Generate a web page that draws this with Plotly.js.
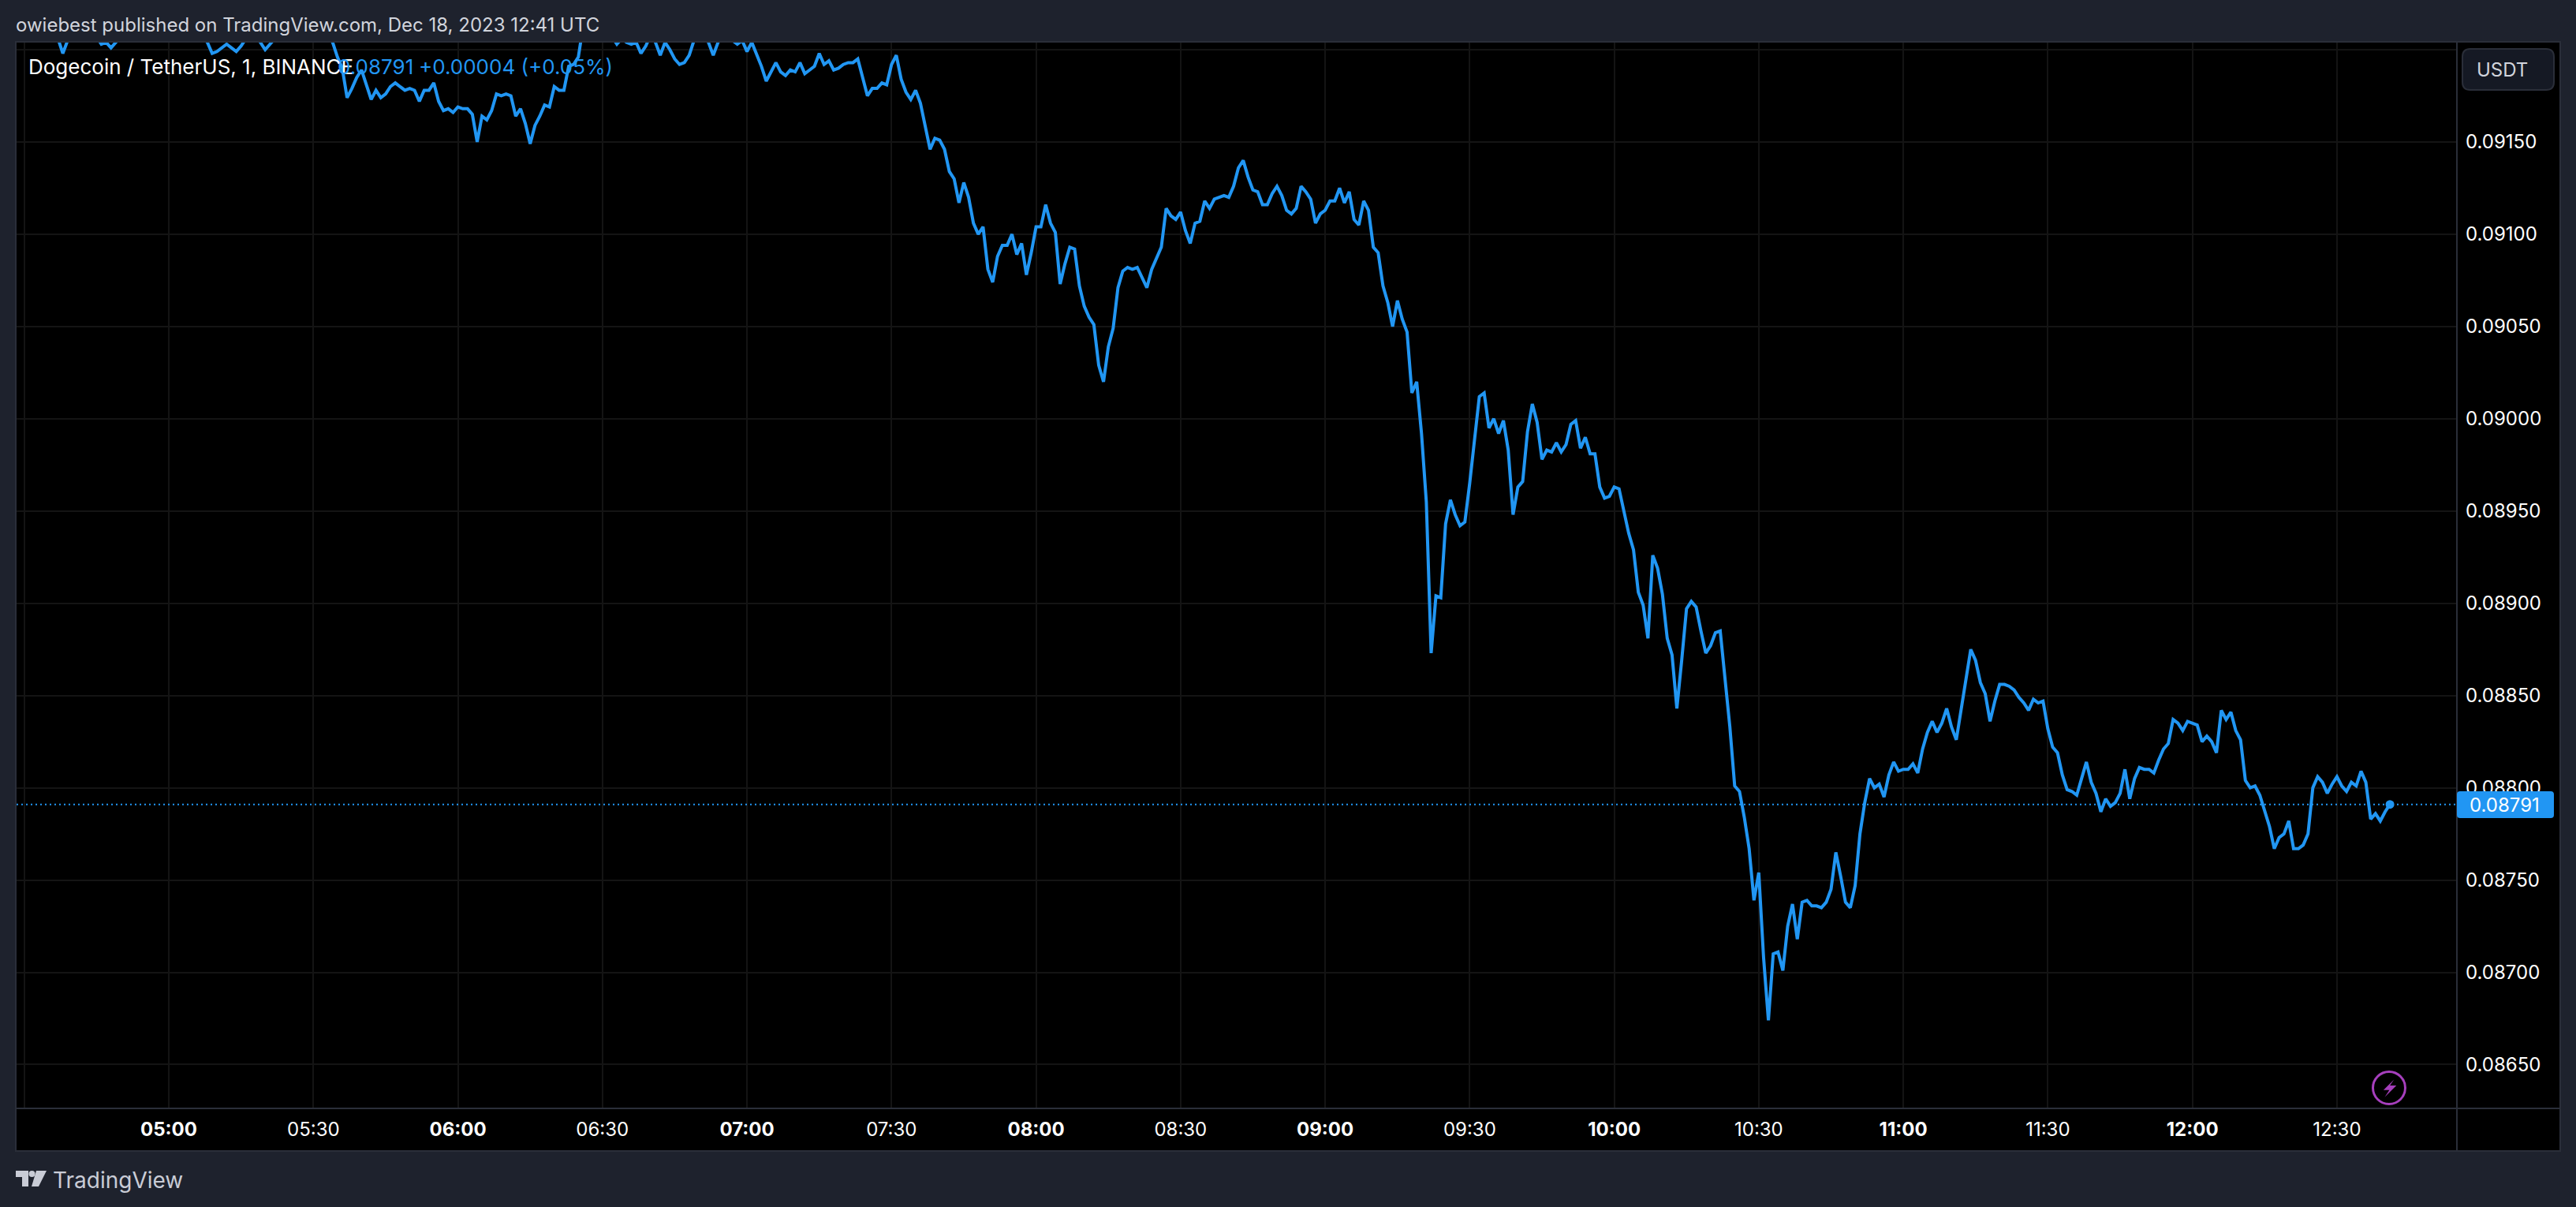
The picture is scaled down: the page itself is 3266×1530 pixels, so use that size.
<!DOCTYPE html>
<html>
<head>
<meta charset="utf-8">
<script src="https://cdn.plot.ly/plotly-3.0.0.min.js"></script>
<style>html,body{margin:0;padding:0;background:#1e222d;overflow:hidden}</style>
</head>
<body>
<div id="chart" style="width:3266px;height:1530px"></div>
<script>
// One close per minute; the first value is 32 minutes before 05:00 UTC, 18 Dec 2023.
const firstMinute = -32;
const closes = [
.09212,.09214,.09213,.09216,.09215,.09212,.09210,.09211,.09208,.09206,
.09198,.09205,.09209,.09211,.09213,.09210,.09208,.09207,.09203,.09204,
.09201,.09204,.09207,.09209,.09211,.09213,.09214,.09212,.09210,.09211,
.09209,.09208,.09207,.09208,.09210,.09209,.09212,.09211,.09209,.09207,
.09204,.09198,.09199,.09201,.09203,.09201,.09199,.09202,.09206,.09208,
.09207,.09204,.09200,.09203,.09206,.09209,.09208,.09210,.09212,.09211,
.09209,.09210,.09212,.09211,.09208,.09207,.09204,.09196,.09190,.09174,
.09179,.09185,.09189,.09181,.09173,.09178,.09174,.09176,.09180,.09182,
.09180,.09178,.09179,.09178,.09172,.09178,.09178,.09182,.09172,.09167,
.09168,.09166,.09169,.09168,.09168,.09165,.09150,.09164,.09162,.09167,
.09176,.09175,.09176,.09175,.09164,.09168,.09160,.09149,.09159,.09164,
.09170,.09169,.09180,.09178,.09178,.09191,.09192,.09196,.09213,.09218,
.09215,.09212,.09214,.09210,.09207,.09203,.09206,.09204,.09203,.09204,
.09198,.09202,.09208,.09204,.09197,.09204,.09200,.09195,.09192,.09193,
.09197,.09205,.09210,.09208,.09204,.09197,.09204,.09208,.09207,.09205,
.09203,.09205,.09199,.09204,.09198,.09191,.09183,.09188,.09193,.09188,
.09186,.09189,.09188,.09193,.09187,.09189,.09191,.09198,.09192,.09194,
.09189,.09190,.09192,.09193,.09193,.09195,.09185,.09175,.09179,.09179,
.09182,.09181,.09192,.09197,.09184,.09177,.09173,.09178,.09171,.09158,
.09146,.09152,.09151,.09146,.09134,.09130,.09117,.09128,.09120,.09106,
.09100,.09104,.09081,.09074,.09088,.09094,.09094,.09100,.09089,.09095,
.09078,.09090,.09104,.09104,.09116,.09106,.09101,.09073,.09084,.09093,
.09092,.09072,.09061,.09055,.09051,.09029,.09020,.09039,.09049,.09071,
.09080,.09082,.09081,.09082,.09076,.09071,.09081,.09087,.09093,.09114,
.09110,.09108,.09112,.09102,.09095,.09106,.09107,.09118,.09114,.09119,
.09120,.09121,.09120,.09126,.09136,.09140,.09131,.09124,.09123,.09116,
.09116,.09122,.09126,.09121,.09113,.09111,.09114,.09126,.09123,.09119,
.09106,.09111,.09113,.09118,.09118,.09125,.09117,.09123,.09108,.09105,
.09118,.09113,.09093,.09090,.09072,.09063,.09050,.09064,.09054,.09047,
.09014,.09020,.08992,.08955,.08873,.08904,.08903,.08943,.08956,.08948,
.08942,.08944,.08965,.08988,.09012,.09014,.08995,.09000,.08992,.08999,
.08983,.08948,.08963,.08966,.08993,.09008,.08998,.08978,.08983,.08982,
.08987,.08982,.08986,.08997,.08999,.08984,.08990,.08981,.08981,.08963,
.08957,.08958,.08963,.08962,.08949,.08938,.08929,.08906,.08899,.08881,
.08926,.08919,.08905,.08881,.08872,.08843,.08869,.08897,.08901,.08898,
.08885,.08873,.08877,.08884,.08885,.08858,.08833,.08801,.08798,.08784,
.08767,.08739,.08754,.08708,.08674,.08710,.08711,.08701,.08725,.08737,
.08718,.08738,.08739,.08736,.08736,.08735,.08738,.08745,.08765,.08752,
.08738,.08735,.08747,.08775,.08792,.08805,.08800,.08802,.08795,.08807,
.08814,.08809,.08810,.08810,.08813,.08808,.08821,.08830,.08836,.08830,
.08835,.08843,.08833,.08826,.08842,.08858,.08875,.08869,.08857,.08851,
.08836,.08847,.08856,.08856,.08855,.08853,.08849,.08846,.08842,.08848,
.08846,.08847,.08832,.08822,.08819,.08807,.08799,.08798,.08796,.08805,
.08814,.08803,.08797,.08787,.08794,.08790,.08792,.08797,.08810,.08794,
.08805,.08811,.08810,.08810,.08808,.08815,.08821,.08824,.08837,.08835,
.08831,.08836,.08835,.08834,.08825,.08828,.08825,.08819,.08842,.08837,
.08841,.08831,.08826,.08804,.08800,.08801,.08796,.08787,.08779,.08767,
.08773,.08775,.08782,.08767,.08767,.08769,.08775,.08800,.08806,.08803,
.08797,.08802,.08806,.08801,.08798,.08803,.08801,.08809,.08803,.08783,
.08786,.08782,.08787,.08791
];
const lastPrice = 0.08791;
const timeTickMinutes = [-30,0,30,60,90,120,150,180,210,240,270,300,330,360,390,420,450];
const timeTickLabels = ["04:30","<b>05:00</b>","05:30","<b>06:00</b>","06:30","<b>07:00</b>","07:30","<b>08:00</b>","08:30","<b>09:00</b>","09:30","<b>10:00</b>","10:30","<b>11:00</b>","11:30","<b>12:00</b>","12:30"];
const priceTicks = [0.0865,0.087,0.0875,0.088,0.0885,0.089,0.0895,0.09,0.0905,0.091,0.0915,0.092];
const priceTickLabels = ["0.08650","0.08700","0.08750","0.08800","0.08850","0.08900","0.08950","0.09000","0.09050","0.09100","0.09150",""];

const headerText = "owiebest published on TradingView.com, Dec 18, 2023 12:41 UTC";
const symbolText = "Dogecoin / TetherUS, 1, BINANCE";
const lastText = "0.08791";
const changeText = "+0.00004 (+0.05%)";

// frame geometry of the picture
const W = 3266, H = 1530, L = 21, R = 3115, T = 54, B = 1405;
const BG = "#1e222d", EDGE = "#2a2e39", BLUE = "#2196f3", GRID = "#141414", PURPLE = "#a63fbd";
const FONT = "Inter, 'Noto Sans', sans-serif";
const px = x => (x - L) / (R - L);
const py = y => (B - y) / (B - T);
const BASE = Date.UTC(2023, 11, 18, 5, 0);
const stamp = m => new Date(BASE + m * 60000).toISOString().slice(0, 19).replace("T", " ");
const times = closes.map((_, i) => stamp(firstMinute + i));

function rect(x0, y0, x1, y1, fill, line, layer, extra) {
  return Object.assign({type:"rect", xref:"paper", yref:"paper", x0:px(x0), x1:px(x1), y0:py(y0), y1:py(y1),
    fillcolor:fill, line:{color:line||"rgba(0,0,0,0)", width:line?2:0}, layer:layer||"below"}, extra||{});
}
function poly(points, fill) {
  const d = points.map((p, i) => (i ? "L" : "M") + px(p[0]).toFixed(6) + "," + py(p[1]).toFixed(6)).join(" ") + " Z";
  return {type:"path", xref:"paper", yref:"paper", path:d, fillcolor:fill, line:{width:0}, layer:"above"};
}
function roundRect(x0, y0, x1, y1, r, fill, line) {
  const k = r;
  const pts = [["M",x0+k,y0],["L",x1-k,y0],["Q",x1,y0,x1,y0+k],["L",x1,y1-k],["Q",x1,y1,x1-k,y1],["L",x0+k,y1],["Q",x0,y1,x0,y1-k],["L",x0,y0+k],["Q",x0,y0,x0+k,y0]];
  const d = pts.map(p => {
    if (p[0] === "Q") return "Q" + px(p[1]).toFixed(6) + "," + py(p[2]).toFixed(6) + " " + px(p[3]).toFixed(6) + "," + py(p[4]).toFixed(6);
    return p[0] + px(p[1]).toFixed(6) + "," + py(p[2]).toFixed(6);
  }).join(" ") + " Z";
  return {type:"path", xref:"paper", yref:"paper", path:d, fillcolor:fill, line:{color:line||"rgba(0,0,0,0)", width:line?2:0}, layer:"above"};
}
function text(x, y, str, size, color, anchor) {
  return {xref:"paper", yref:"paper", x:px(x), y:py(y), text:str, showarrow:false, xanchor:anchor||"left", yanchor:"middle",
    font:{family:FONT, size:size, color:color}, borderpad:0, borderwidth:0};
}

const shapes = [
  rect(R, T, 3246, 1459, "#000"),
  rect(L, B, 3246, 1459, "#000"),
  {type:"line", xref:"paper", yref:"y", x0:0, x1:1, y0:lastPrice, y1:lastPrice, line:{color:BLUE, width:2, dash:"2px,4px"}, layer:"above"},
  rect(0, T-2, L-1, 1459, BG, null, "above"),
  rect(20, 53, 3246, 1459, "rgba(0,0,0,0)", EDGE, "above"),
  {type:"line", xref:"paper", yref:"paper", x0:px(R), x1:px(R), y0:py(T), y1:py(1459), line:{color:EDGE, width:2}, layer:"above"},
  {type:"line", xref:"paper", yref:"paper", x0:px(L), x1:px(3246), y0:py(B), y1:py(B), line:{color:EDGE, width:2}, layer:"above"},
  roundRect(3122, 62, 3238, 114, 10, "#151924", EDGE),
  roundRect(R, 1003, 3238, 1037, 4, BLUE),
  {type:"circle", xref:"paper", yref:"paper", x0:px(3008.5), x1:px(3049.5), y0:py(1358.5), y1:py(1399.5), fillcolor:"rgba(0,0,0,0)", line:{color:PURPLE, width:3}, layer:"above"},
  poly([[3035.3,1368.4],[3021.9,1381.8],[3029.4,1381.8],[3023.4,1390.8],[3038.3,1375.9],[3030.1,1375.9]], PURPLE),
  poly([[20,1484],[36,1484],[36,1504],[28,1504],[28,1492],[20,1492]], "#c9ccd6"),
  poly([[46,1484],[59,1484],[49,1504],[40,1504]], "#c9ccd6"),
  {type:"circle", xref:"paper", yref:"paper", x0:px(36.5), x1:px(44.5), y0:py(1484), y1:py(1492), fillcolor:"#c9ccd6", line:{width:0}, layer:"above"}
];

const annotations = [
  text(20, 32, headerText, 24, "#d1d4dc"),
  text(36, 85, symbolText, 26, "#ffffff"),
  text(428, 85, lastText, 26, BLUE),
  text(531, 85, changeText, 26, BLUE),
  text(3140, 88, "USDT", 24, "#d1d4dc"),
  text(3175.5, 1020, lastText, 24, "#ffffff", "center"),
  text(67, 1496, "TradingView", 28, "#c9ccd6")
];

const data = [
  {type:"scatter", mode:"lines", x:times, y:closes, line:{color:BLUE, width:4, shape:"linear"}, hoverinfo:"skip", cliponaxis:true},
  {type:"scatter", mode:"markers", x:[times[times.length-1]], y:[lastPrice], marker:{color:BLUE, size:11}, hoverinfo:"skip"}
];

const layout = {
  width:W, height:H, showlegend:false, paper_bgcolor:BG, plot_bgcolor:"#000",
  margin:{l:L, r:W-R, t:T, b:H-B, pad:0}, font:{family:FONT, color:"#fff", size:24},
  xaxis:{type:"date", range:[stamp(-31.6), stamp(474.9)], tickmode:"array", tickvals:timeTickMinutes.map(stamp), ticktext:timeTickLabels,
    showgrid:true, gridcolor:GRID, gridwidth:2, zeroline:false, showline:false, ticks:"", tickangle:0,
    tickfont:{family:FONT, size:24, color:"#fff"}, ticklabelstandoff:10},
  yaxis:{side:"right", range:[0.0862625, 0.0920385], tickmode:"array", tickvals:priceTicks, ticktext:priceTickLabels,
    showgrid:true, gridcolor:GRID, gridwidth:2, zeroline:false, showline:false, ticks:"",
    tickfont:{family:FONT, size:24, color:"#fff"}, ticklabelstandoff:10},
  shapes:shapes, annotations:annotations
};
Plotly.newPlot("chart", data, layout, {staticPlot:true, displayModeBar:false});
</script>
</body>
</html>
